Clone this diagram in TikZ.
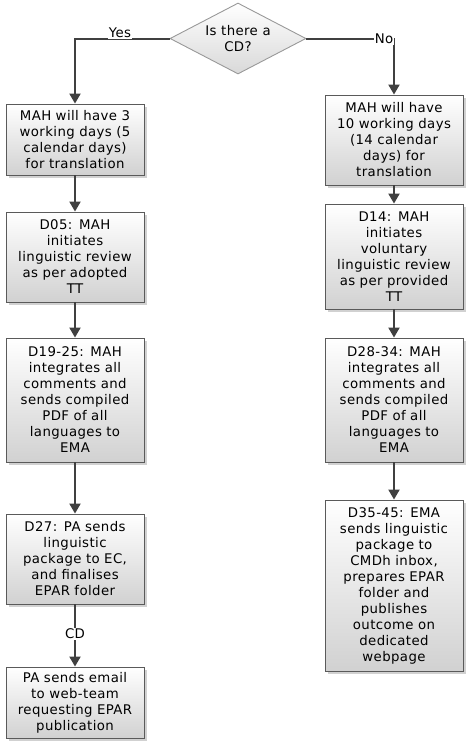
\documentclass[tikz,border=0pt]{standalone}
\usepackage{fontspec}
\setmainfont[LetterSpace=3]{DejaVu Sans}
\usetikzlibrary{shapes.geometric,shadows,arrows.meta}
\definecolor{edge}{HTML}{5A5A5A}
\definecolor{arr}{HTML}{404040}
\tikzset{
  box/.style={draw=edge, line width=0.9pt, top color=white, bottom color=black!18,
    drop shadow={shadow xshift=2.5pt, shadow yshift=-2.5pt, fill=black!30, opacity=0.6},
    minimum width=138pt, text width=136pt, align=center, inner sep=0pt,
    font=\fontsize{13.3}{16}\selectfont},
  dec/.style={draw=black!40, line width=0.9pt, diamond, aspect=1.9, top color=white, bottom color=black!15,
    minimum width=136pt, minimum height=71pt, inner sep=0pt, align=center,
    font=\fontsize{13.3}{16}\selectfont},
  conn/.style={draw=arr, line width=2pt, -{Triangle[length=10pt,width=11pt]}},
  lbl/.style={fill=white, inner sep=1pt, font=\fontsize{13.3}{14}\selectfont}
}
\begin{document}
\begin{tikzpicture}[x=1pt,y=-1pt]
\useasboundingbox (0,0) rectangle (473,748);
\node[dec] (d) at (238,38.5) {Is there a\\CD?};
\node[box, minimum height=71pt] (l1) at (75,139.5) {MAH will have 3\\working days (5\\calendar days)\\for translation};
\node[box, minimum height=90pt] (l2) at (75,257) {D05: MAH\\initiates\\linguistic review\\as per adopted\\TT};
\node[box, minimum height=124pt] (l3) at (75,400) {D19-25: MAH\\integrates all\\comments and\\sends compiled\\PDF of all\\languages to\\EMA};
\node[box, minimum height=90pt] (l4) at (75,559) {D27: PA sends\\linguistic\\package to EC,\\and finalises\\EPAR folder};
\node[box, minimum height=71pt] (l5) at (75,702.5) {PA sends email\\to web-team\\requesting EPAR\\publication};
\node[box, minimum height=90pt] (r1) at (394,140) {MAH will have\\10 working days\\(14 calendar\\days) for\\translation};
\node[box, minimum height=105pt] (r2) at (394,256.5) {D14: MAH\\initiates\\voluntary\\linguistic review\\as per provided\\TT};
\node[box, minimum height=124pt] (r3) at (394,400) {D28-34: MAH\\integrates all\\comments and\\sends compiled\\PDF of all\\languages to\\EMA};
\node[box, minimum height=171pt] (r4) at (394,585.5) {D35-45: EMA\\sends linguistic\\package to\\CMDh inbox,\\prepares EPAR\\folder and\\publishes\\outcome on\\dedicated\\webpage};
\draw[conn] (d.west) -| (l1.north);
\draw[conn] (d.east) -| (r1.north);
\draw[conn] (l1) -- (l2);
\draw[conn] (l2) -- (l3);
\draw[conn] (l3) -- (l4);
\draw[conn] (l4) -- (l5);
\draw[conn] (r1) -- (r2);
\draw[conn] (r2) -- (r3);
\draw[conn] (r3) -- (r4);
\node[lbl] (yes) at (120,33) {Yes};
\node[lbl] (no) at (384,39) {No};
\node[lbl] (cd) at (75,634) {CD};
\end{tikzpicture}
\end{document}
